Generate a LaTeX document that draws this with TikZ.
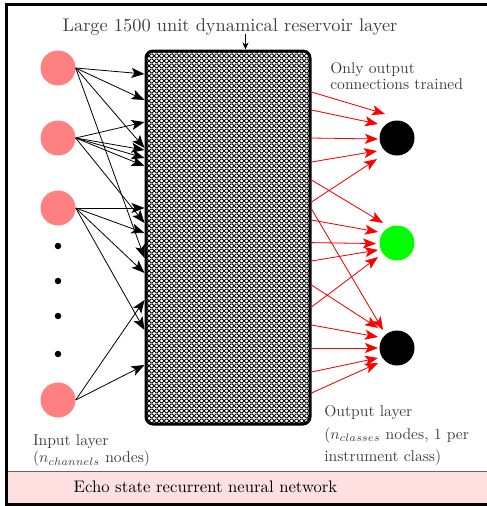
\documentclass[tikz,border=0pt]{standalone}
\usepackage{tikz}
\usetikzlibrary{arrows.meta,patterns.meta}
\definecolor{inpink}{HTML}{FF8080}
\definecolor{bandpink}{HTML}{FFE0E0}
\definecolor{labelgray}{HTML}{404040}
\definecolor{wirered}{HTML}{FF0000}
\tikzdeclarepattern{name=reservoirmesh,type=colored,
  bounding box={(0pt,0pt) and (4.6pt,4.6pt)},tile size={(4.6pt,4.6pt)},
  code={\fill[white] (0pt,0pt) rectangle (4.6pt,4.6pt);
        \draw[black,line width=1.1pt] (-1pt,-1pt) -- (5.6pt,5.6pt) (-1pt,5.6pt) -- (5.6pt,-1pt);}}

\begin{document}
\begin{tikzpicture}[
  x=1pt,y=-1pt,
  innode/.style={circle,fill=inpink,minimum size=35pt,inner sep=0pt},
  outnode/.style={circle,minimum size=35pt,inner sep=0pt},
  dotnode/.style={circle,fill=black,minimum size=6.5pt,inner sep=0pt},
  lbl/.style={text=labelgray,align=left,inner sep=0pt,scale=1.56,transform shape},
  arr/.style={-{Stealth[length=13pt,width=10pt,inset=3pt]},line width=0.8pt},
  outarr/.style={arr,draw=wirered,fill=wirered},
  smallarr/.style={-{Stealth[length=7pt,width=6pt]},line width=0.8pt}
]
\useasboundingbox (0,0) rectangle (487,506);
% frame and caption band
\fill[bandpink] (6,471) rectangle (520,504);
\draw[black!60,line width=0.6pt] (6,471) -- (520,471);
\draw[line width=3pt] (6,4.5) rectangle (520,504);
\node[anchor=base,inner sep=0pt,scale=1.67,transform shape] (band) at (205.5,492.3) {Echo state recurrent neural network};

% reservoir
\node[draw,line width=3pt,rounded corners=7pt,minimum width=164pt,minimum height=373pt,
  pattern=reservoirmesh] (res) at (228,237.5) {};
\node[anchor=base,text=labelgray,inner sep=0pt,scale=1.84,transform shape] (title) at (230,31) {Large 1500 unit dynamical reservoir layer};
\coordinate (titletip) at (245.5,34);
\draw[smallarr] (titletip) -- (titletip |- res.north);

% input layer
\node[innode] (in1) at (58,68) {};
\node[innode] (in2) at (58,138) {};
\node[innode] (in3) at (58,208) {};
\node[innode] (in4) at (58,400) {};
\foreach \y/\n in {246/1,281/2,316/3,354/4}
  \node[dotnode] (gap\n) at (58,\y) {};
\foreach \s/\t in {1/74,1/100,1/148,1/258,2/122,2/150,2/158,2/166,2/223,
                   3/208,3/233,3/273,3/330,4/300,4/365}
  \draw[arr] (in\s.east) -- (res.west |- 0,\t);

% output layer
\node[outnode,fill=black] (out1) at (397,138) {};
\node[outnode,fill=green] (out2) at (397,243) {};
\node[outnode,fill=black] (out3) at (397,348) {};
\foreach \s/\o/\dx/\dy in {92/1/-12/-24,110/1/-19/-14,138/1/-19/1,162/1/-20/13,202/1/-20/21,
                           180/2/-14/-20,220/2/-19/-11,242.6/2/-21/0.6,261/2/-19/7,307/2/-19/14,
                           209/3/-14/-18,285/3/-19/-20,325/3/-19/-11,348/3/-19/0,372/3/-19/10,393/3/-19/15}
  \draw[outarr] (res.east |- 0,\s) -- ([shift={(\dx,\dy)}]out\o.center);

% labels
\node[lbl,anchor=west,font=\fontsize{10}{10}\selectfont] (trained) at (330,76) {Only output\\connections trained};
\node[lbl,anchor=west,font=\fontsize{10}{14.5}\selectfont] (outlbl) at (324,435.7) {Output layer\\($n_{classes}$ nodes, 1 per\\instrument class)};
\node[lbl,anchor=west,font=\fontsize{10}{11.3}\selectfont] (inlbl) at (32.7,450.4) {Input layer\\($n_{channels}$ nodes)};
\end{tikzpicture}
\end{document}
